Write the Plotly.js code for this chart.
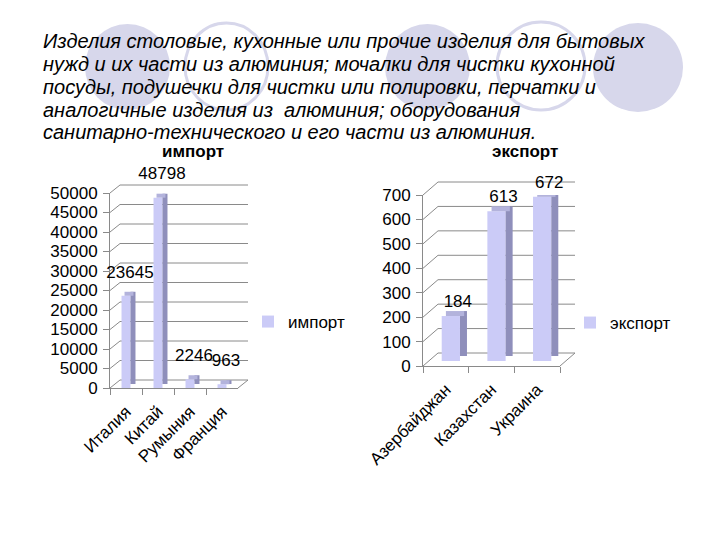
<!DOCTYPE html>
<html><head><meta charset="utf-8">
<script src="https://cdn.plot.ly/plotly-3.0.1.min.js"></script>
<style>html,body{margin:0;padding:0;background:#fff}#chart{width:720px;height:540px}</style>
</head><body><div id="chart"></div>
<script>
// ---------- data ----------
const titleLines = [
  'Изделия столовые, кухонные или прочие изделия для бытовых',
  'нужд и их части из алюминия; мочалки для чистки кухонной',
  'посуды, подушечки для чистки или полировки, перчатки и',
  'аналогичные изделия из  алюминия; оборудования',
  'санитарно-технического и его части из алюминия.'
];
const importTitle = 'импорт';
const exportTitle = 'экспорт';
const importCountries = ['Италия', 'Китай', 'Румыния', 'Франция'];
const importValues = [23645, 48798, 2246, 963];
const importTicks = [0, 5000, 10000, 15000, 20000, 25000, 30000, 35000, 40000, 45000, 50000];
const exportCountries = ['Азербайджан', 'Казахстан', 'Украина'];
const exportValues = [184, 613, 672];
const exportTicks = [0, 100, 200, 300, 400, 500, 600, 700];

// ---------- helpers ----------
const W = 720, H = 540;
const px = x => x / W;
const py = y => 1 - y / H;
const FONT = 'Liberation Sans, Arial, sans-serif';
const GRID = '#8a8a8a';
const FRONT = '#CBCBF7';
const SIDE = '#8F8FBB';
const TOP = '#B3B3DC';
const tickFont = {family: FONT, size: 17, color: '#000'};

// geometry of the two pseudo-3D panels, in pixels:
// bar = shift of bar face from front plane, depth = bar depth, back = back wall shift, lab = value label shift
const G1 = {x0: 110, x1: 238, yb: 388, yt: 193, max: 50000, w: 0.28,
            bar: [0, 0], depth: [5, 4], back: [10, -8], lab: [4, -14]};
const G2 = {x0: 423, x1: 560, yb: 366, yt: 195, max: 700, w: 0.4,
            bar: [5, 5], depth: [7, 5], back: [15, -13], lab: [12, -10]};

const layout = {
  width: W, height: H, margin: {l: 0, r: 0, t: 0, b: 0},
  paper_bgcolor: '#fff', plot_bgcolor: 'rgba(0,0,0,0)',
  font: {family: FONT, color: '#000'},
  showlegend: true, barmode: 'overlay',
  legend: {x: px(248), y: py(322), xanchor: 'left', yanchor: 'middle', bgcolor: 'rgba(0,0,0,0)',
           font: {family: FONT, size: 17}, itemwidth: 30},
  legend2: {x: px(570), y: py(323), xanchor: 'left', yanchor: 'middle', bgcolor: 'rgba(0,0,0,0)',
            font: {family: FONT, size: 17}, itemwidth: 30},
  shapes: [], annotations: []
};

const k = i => (i === 1 ? '' : String(i));
function setAxes(i, G, n, off, dt, xextra, yextra) {
  layout['xaxis' + k(i)] = Object.assign({
    type: 'category', domain: [px(G.x0 + off[0]), px(G.x1 + off[0])], range: [-0.5, n - 0.5],
    anchor: 'y' + k(i), showgrid: false, zeroline: false, fixedrange: true
  }, xextra);
  layout['yaxis' + k(i)] = Object.assign({
    domain: [py(G.yb + off[1]), py(G.yt + off[1])], range: [0, G.max], anchor: 'x' + k(i),
    dtick: dt, tick0: 0, tickformat: 'd', showgrid: false, zeroline: false, fixedrange: true
  }, yextra);
}
function line(x0, y0, x1, y1) {
  layout.shapes.push({type: 'line', xref: 'paper', yref: 'paper', layer: 'below',
    x0: px(x0), y0: py(y0), x1: px(x1), y1: py(y1), line: {color: GRID, width: 1}});
}

function panel(G, cats, vals, ticks, front, lab, name, legendId) {
  const n = cats.length;
  const catPx = (G.x1 - G.x0) / n;             // pixels per category
  const valPx = G.max / (G.yb - G.yt);          // value units per pixel
  const dt = ticks[1] - ticks[0];
  setAxes(front, G, n, [0, 0], dt, {
    showline: true, linecolor: GRID, linewidth: 1, ticks: 'outside', tickson: 'boundaries',
    ticklen: 6, tickcolor: GRID, tickangle: -45, tickfont: tickFont, ticklabelstandoff: 6
  }, {
    showline: true, linecolor: GRID, linewidth: 1, ticks: 'outside', ticklen: 6, tickcolor: GRID,
    tickfont: tickFont, ticklabelstandoff: 2
  });
  setAxes(lab, G, n, G.lab, dt, {visible: false}, {visible: false});

  // back wall gridlines, left wall diagonals, right floor edge
  const yf = v => G.yb - (G.yb - G.yt) * v / G.max;
  ticks.forEach(v => {
    line(G.x0 + G.back[0], yf(v) + G.back[1], G.x1 + G.back[0], yf(v) + G.back[1]);
    line(G.x0, yf(v), G.x0 + G.back[0], yf(v) + G.back[1]);
  });
  line(G.x1, G.yb, G.x1 + G.back[0], G.yb + G.back[1]);

  const xa = 'x' + k(front), ya = 'y' + k(front);
  const faceOff = -G.w / 2 + G.bar[0] / catPx;
  const dxc = G.depth[0] / catPx, dyv = G.depth[1] * valPx, byv = G.bar[1] * valPx;
  return [
    // front face
    {type: 'bar', x: cats, y: vals, xaxis: xa, yaxis: ya, width: G.w, offset: faceOff, base: byv,
     name: name, legend: legendId, marker: {color: FRONT, line: {width: 0}}, hoverinfo: 'skip'},
    // right side face
    {type: 'bar', x: cats, y: vals, xaxis: xa, yaxis: ya, width: dxc, offset: faceOff + G.w,
     base: byv + dyv, marker: {color: SIDE, line: {width: 0}}, showlegend: false, hoverinfo: 'skip'},
    // top face
    {type: 'bar', x: cats, y: vals.map(() => dyv), base: vals.map(v => v + byv), xaxis: xa, yaxis: ya,
     width: G.w, offset: faceOff + dxc * 0.6,
     marker: {color: TOP, line: {width: 0}}, showlegend: false, hoverinfo: 'skip'},
    // value labels
    {type: 'scatter', mode: 'text', x: cats, y: vals, text: vals.map(String),
     xaxis: 'x' + k(lab), yaxis: 'y' + k(lab),
     textposition: 'top center', textfont: {family: FONT, size: 17, color: '#000'}, cliponaxis: false,
     showlegend: false, hoverinfo: 'skip'}
  ];
}

const traces = [].concat(
  panel(G1, importCountries, importValues, importTicks, 1, 2, importTitle, 'legend'),
  panel(G2, exportCountries, exportValues, exportTicks, 3, 4, exportTitle, 'legend2')
);

// decorative circles
const circleFill = '#D7D7EB';
[[85, 170, 24, 110, true], [185, 268, 23, 110, false], [385, 470, 24, 110, true],
 [497, 585, 22, 110, false], [593, 683, 23, 112, true]].forEach(c => {
  layout.shapes.push({type: 'circle', xref: 'paper', yref: 'paper', layer: 'below',
    x0: px(c[0]), x1: px(c[1]), y0: py(c[3]), y1: py(c[2]),
    fillcolor: c[4] ? circleFill : 'rgba(0,0,0,0)',
    line: {color: circleFill, width: c[4] ? 0 : 3}});
});

// slide title text
const lineY = [41, 64, 87, 110, 132];
titleLines.forEach((t, i) => {
  layout.annotations.push({xref: 'paper', yref: 'paper', x: px(41), y: py(lineY[i]),
    xanchor: 'left', yanchor: 'middle', showarrow: false, text: t,
    font: {family: FONT, size: 20, style: 'italic', color: '#000'}});
});
// chart titles
layout.annotations.push({xref: 'paper', yref: 'paper', x: px(193), y: py(151), xanchor: 'center', yanchor: 'middle',
  showarrow: false, text: '<b>' + importTitle + '</b>', font: {family: FONT, size: 17, color: '#000'}});
layout.annotations.push({xref: 'paper', yref: 'paper', x: px(525), y: py(151), xanchor: 'center', yanchor: 'middle',
  showarrow: false, text: '<b>' + exportTitle + '</b>', font: {family: FONT, size: 17, color: '#000'}});

Plotly.newPlot('chart', traces, layout, {staticPlot: true, displayModeBar: false});
</script></body></html>
